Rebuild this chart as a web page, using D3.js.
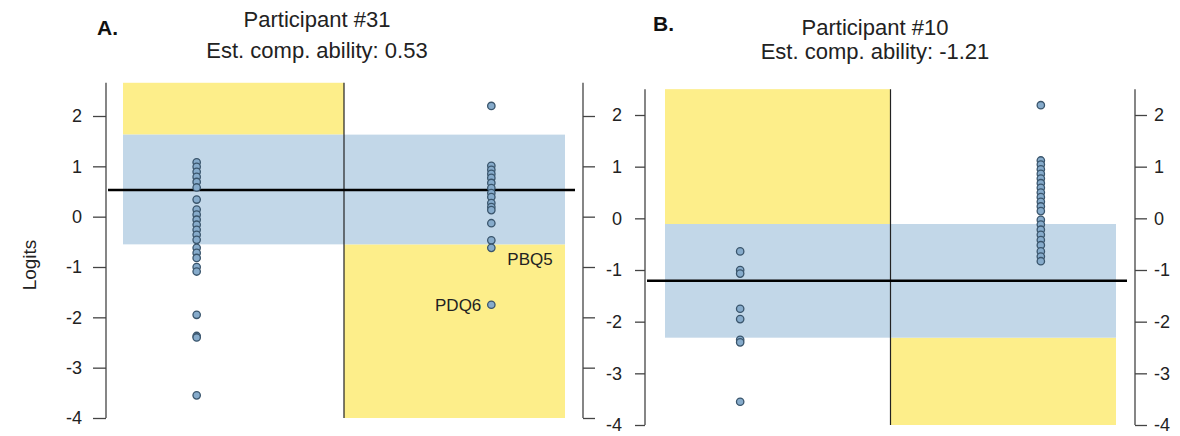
<!DOCTYPE html>
<html>
<head>
<meta charset="utf-8">
<script src="https://cdn.jsdelivr.net/npm/d3@7"></script>
<style>
  body { margin: 0; background: #fff; }
  svg { display: block; font-family: "Liberation Sans", Arial, sans-serif; }
</style>
</head>
<body>
<svg id="chart" width="1180" height="436"></svg>
<script>
const panelLabels = ["A.", "B."]
const titles = ["Participant #31", "Participant #10"]
const subtitles = ["Est. comp. ability: 0.53", "Est. comp. ability: -1.21"]
const abilities = [0.53, -1.21]
const bandHigh = [1.63, -0.11]
const bandLow = [-0.55, -2.31]
const columns = ["left", "right"]
const yTicks = [2, 1, 0, -1, -2, -3, -4]
const yMin = -4
const yMax = [2.66, 2.5]

// item logits per column
const aLeft = [1.08, 0.99, 0.89, 0.79, 0.69, 0.58, 0.34, 0.14, 0.04, -0.06, -0.16, -0.26, -0.36, -0.46, -0.62, -0.72, -0.82, -1.0, -1.09, -1.95, -2.37, -2.4, -3.55]
const aRight = [2.2, 1.01, 0.93, 0.85, 0.77, 0.67, 0.57, 0.47, 0.39, 0.27, 0.19, 0.13, -0.13, -0.47, -0.62, -1.75]
const bLeft = [-0.64, -1.0, -1.07, -1.75, -1.95, -2.35, -2.4, -3.55]
const bRight = [2.19, 1.12, 1.04, 0.95, 0.86, 0.77, 0.68, 0.59, 0.5, 0.41, 0.32, 0.23, 0.14, -0.03, -0.12, -0.22, -0.32, -0.42, -0.52, -0.64, -0.74, -0.83]
const labels = [{ name: "PBQ5", value: -0.62, col: "right", side: "right" }, { name: "PDQ6", value: -1.75, col: "right", side: "left" }]

const yellow = "#fdee8a"
const blue = "#c2d7e8"

// panel frames (pixel boxes); showL / showR: draw tick labels on that axis
const frames = [
  { axL: 106, axR: 583, x0: 123, x1: 565, y0: 418, y2: 116, tx: 317, t1: 27, t2: 58, lx: 97, ly: 35, showL: true, showR: false },
  { axL: 645, axR: 1135, x0: 665, x1: 1116, y0: 425, y2: 115, tx: 875, t1: 35, t2: 59, lx: 653, ly: 31, showL: true, showR: true }
]
const panelData = [[aLeft, aRight], [bLeft, bRight]]

const svg = d3.select("#chart")

svg.append("text")
  .attr("transform", "translate(36, 265) rotate(-90)")
  .attr("text-anchor", "middle")
  .attr("font-size", 19)
  .attr("fill", "#222")
  .text("Logits")

frames.forEach((f, p) => {
  const g = svg.append("g")

  const y = d3.scaleLinear().domain([yMin, 2]).range([f.y0, f.y2])
  const x = d3.scalePoint().domain(columns).range([f.x0, f.x1]).padding(0.25)
  const mid = (f.x0 + f.x1) / 2
  const top = y(yMax[p])

  // regions
  g.append("rect")
    .attr("x", f.x0).attr("y", top)
    .attr("width", mid - f.x0).attr("height", y(bandHigh[p]) - top)
    .attr("fill", yellow)
  g.append("rect")
    .attr("x", mid).attr("y", y(bandLow[p]))
    .attr("width", f.x1 - mid).attr("height", y(yMin) - y(bandLow[p]))
    .attr("fill", yellow)
  g.append("rect")
    .attr("x", f.x0).attr("y", y(bandHigh[p]))
    .attr("width", f.x1 - f.x0).attr("height", y(bandLow[p]) - y(bandHigh[p]))
    .attr("fill", blue)

  // midline
  g.append("line")
    .attr("x1", mid).attr("x2", mid)
    .attr("y1", top).attr("y2", y(yMin))
    .attr("stroke", "#222").attr("stroke-width", 1.2)

  // ability line
  g.append("line")
    .attr("x1", f.axL + 2).attr("x2", f.axR - 8)
    .attr("y1", y(abilities[p])).attr("y2", y(abilities[p]))
    .attr("stroke", "#000").attr("stroke-width", 2.5)

  // axes
  const left = g.append("g")
    .attr("transform", `translate(${f.axL},0)`)
    .call(d3.axisLeft(y).tickValues(yTicks).tickSize(p === 0 ? 13 : 10).tickPadding(p === 0 ? 11 : 13).tickSizeOuter(0)
      .tickFormat(d => f.showL ? String(d) : ""))
  const right = g.append("g")
    .attr("transform", `translate(${f.axR},0)`)
    .call(d3.axisRight(y).tickValues(yTicks).tickSize(12).tickPadding(7).tickSizeOuter(0)
      .tickFormat(d => f.showR ? String(d) : ""))
  ;[left, right].forEach(a => {
    a.attr("font-size", 18).attr("font-family", "Liberation Sans, Arial, sans-serif")
    a.select(".domain").attr("d", `M0,${top}V${y(yMin)}`).attr("stroke", "#444").attr("stroke-width", 1.3)
    a.selectAll(".tick line").attr("stroke", "#444").attr("stroke-width", 1.3)
    a.selectAll(".tick text").attr("fill", "#222")
  })

  // points
  panelData[p].forEach((vals, c) => {
    g.selectAll(null)
      .data(vals)
      .enter()
      .append("circle")
        .attr("cx", x(columns[c]))
        .attr("cy", d => y(d))
        .attr("r", 3.7)
        .attr("fill", "#86abcb")
        .attr("stroke", "#3a556c")
        .attr("stroke-width", 1.3)
  })

  // item labels (panel A only)
  if (p === 0) {
    labels.forEach(l => {
      g.append("text")
        .attr("x", l.side === "right" ? x(l.col) + 16 : x(l.col) - 10)
        .attr("y", l.side === "right" ? y(l.value) + 17 : y(l.value) + 6)
        .attr("text-anchor", l.side === "right" ? "start" : "end")
        .attr("font-size", 17)
        .attr("fill", "#222")
        .text(l.name)
    })
  }

  // titles
  g.append("text")
    .attr("x", f.lx).attr("y", f.ly)
    .attr("font-size", 21).attr("font-weight", "bold").attr("fill", "#111")
    .text(panelLabels[p])
  g.append("text")
    .attr("x", f.tx).attr("y", f.t1)
    .attr("text-anchor", "middle")
    .attr("font-size", 22).attr("fill", "#222")
    .text(titles[p])
  g.append("text")
    .attr("x", f.tx).attr("y", f.t2)
    .attr("text-anchor", "middle")
    .attr("font-size", 22).attr("fill", "#222")
    .text(subtitles[p])
})
</script>
</body>
</html>
